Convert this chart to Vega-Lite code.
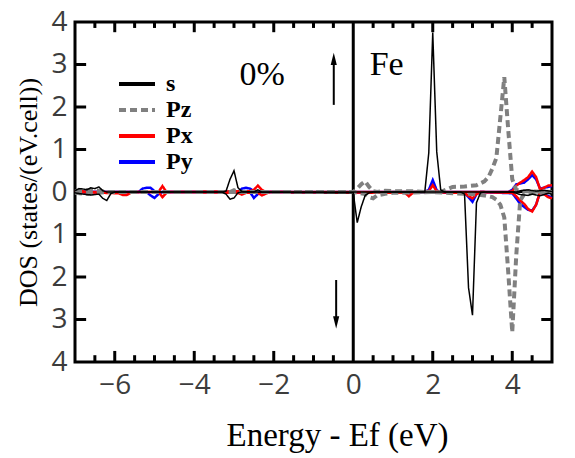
{
  "$schema": "https://vega.github.io/schema/vega-lite/v6.json",
  "width": 477,
  "height": 340,
  "autosize": {"type": "none"},
  "padding": {"left": 75, "top": 22, "right": 23, "bottom": 96},
  "background": "white",
  "config": {
    "view": {"stroke": "black", "strokeWidth": 3},
    "axis": {"domain": false, "ticks": false, "tickSize": 0, "grid": false, "labelFlush": false, "labelOverlap": false}
  },
  "datasets": {
    "xticks": [
      {"v": -6.5, "k": "minor"}, {"v": -6, "k": "major"}, {"v": -5.5, "k": "minor"}, {"v": -5, "k": "minor"}, {"v": -4.5, "k": "minor"},
      {"v": -4, "k": "major"}, {"v": -3.5, "k": "minor"}, {"v": -3, "k": "minor"}, {"v": -2.5, "k": "minor"}, {"v": -2, "k": "major"},
      {"v": -1.5, "k": "minor"}, {"v": -1, "k": "minor"}, {"v": -0.5, "k": "minor"}, {"v": 0.5, "k": "minor"}, {"v": 1, "k": "minor"},
      {"v": 1.5, "k": "minor"}, {"v": 2, "k": "major"}, {"v": 2.5, "k": "minor"}, {"v": 3, "k": "minor"}, {"v": 3.5, "k": "minor"},
      {"v": 4, "k": "major"}, {"v": 4.5, "k": "minor"}
    ],
    "yticks": [
      {"v": -3}, {"v": -2}, {"v": -1}, {"v": 0}, {"v": 1}, {"v": 2}, {"v": 3}
    ],
    "dos": [
      {"o": "s", "sp": "up", "e": -7.0, "d": 0.03}, {"o": "s", "sp": "up", "e": -6.9, "d": 0.08}, {"o": "s", "sp": "up", "e": -6.8, "d": 0.07},
      {"o": "s", "sp": "up", "e": -6.7, "d": 0.05}, {"o": "s", "sp": "up", "e": -6.6, "d": 0.1}, {"o": "s", "sp": "up", "e": -6.5, "d": 0.08},
      {"o": "s", "sp": "up", "e": -6.4, "d": 0.12}, {"o": "s", "sp": "up", "e": -6.3, "d": 0.03}, {"o": "s", "sp": "up", "e": -6.2, "d": 0.0},
      {"o": "s", "sp": "up", "e": -3.3, "d": 0.0}, {"o": "s", "sp": "up", "e": -3.2, "d": 0.02}, {"o": "s", "sp": "up", "e": -3.1, "d": 0.3},
      {"o": "s", "sp": "up", "e": -3.0, "d": 0.5}, {"o": "s", "sp": "up", "e": -2.9, "d": 0.1}, {"o": "s", "sp": "up", "e": -2.8, "d": 0.01},
      {"o": "s", "sp": "up", "e": -2.5, "d": 0.0}, {"o": "s", "sp": "up", "e": -2.4, "d": 0.05}, {"o": "s", "sp": "up", "e": -2.3, "d": 0.0},
      {"o": "s", "sp": "up", "e": 1.8, "d": 0.0}, {"o": "s", "sp": "up", "e": 1.9, "d": 0.92}, {"o": "s", "sp": "up", "e": 2.0, "d": 3.75},
      {"o": "s", "sp": "up", "e": 2.1, "d": 0.95}, {"o": "s", "sp": "up", "e": 2.2, "d": 0.05}, {"o": "s", "sp": "up", "e": 2.3, "d": 0.0},
      {"o": "s", "sp": "up", "e": 4.1, "d": 0.0}, {"o": "s", "sp": "up", "e": 4.2, "d": 0.03}, {"o": "s", "sp": "up", "e": 4.4, "d": 0.05},
      {"o": "s", "sp": "up", "e": 4.6, "d": 0.02}, {"o": "s", "sp": "up", "e": 4.8, "d": 0.04}, {"o": "s", "sp": "up", "e": 5.0, "d": 0.01},

      {"o": "s", "sp": "dn", "e": -7.0, "d": -0.02}, {"o": "s", "sp": "dn", "e": -6.8, "d": -0.05}, {"o": "s", "sp": "dn", "e": -6.6, "d": -0.07},
      {"o": "s", "sp": "dn", "e": -6.4, "d": -0.05}, {"o": "s", "sp": "dn", "e": -6.3, "d": -0.15}, {"o": "s", "sp": "dn", "e": -6.2, "d": -0.2},
      {"o": "s", "sp": "dn", "e": -6.1, "d": -0.04}, {"o": "s", "sp": "dn", "e": -6.0, "d": 0.0}, {"o": "s", "sp": "dn", "e": -3.3, "d": 0.0},
      {"o": "s", "sp": "dn", "e": -3.2, "d": -0.05}, {"o": "s", "sp": "dn", "e": -3.1, "d": -0.17}, {"o": "s", "sp": "dn", "e": -3.0, "d": -0.14},
      {"o": "s", "sp": "dn", "e": -2.9, "d": -0.02}, {"o": "s", "sp": "dn", "e": -2.8, "d": 0.0}, {"o": "s", "sp": "dn", "e": 0.0, "d": -0.02},
      {"o": "s", "sp": "dn", "e": 0.1, "d": -0.72}, {"o": "s", "sp": "dn", "e": 0.2, "d": -0.35}, {"o": "s", "sp": "dn", "e": 0.3, "d": -0.08},
      {"o": "s", "sp": "dn", "e": 0.4, "d": -0.02}, {"o": "s", "sp": "dn", "e": 0.5, "d": 0.0}, {"o": "s", "sp": "dn", "e": 2.7, "d": 0.0},
      {"o": "s", "sp": "dn", "e": 2.8, "d": -0.05}, {"o": "s", "sp": "dn", "e": 2.9, "d": -2.25}, {"o": "s", "sp": "dn", "e": 3.0, "d": -2.9},
      {"o": "s", "sp": "dn", "e": 3.1, "d": -0.25}, {"o": "s", "sp": "dn", "e": 3.2, "d": -0.02}, {"o": "s", "sp": "dn", "e": 3.3, "d": 0.0},
      {"o": "s", "sp": "dn", "e": 4.0, "d": 0.0}, {"o": "s", "sp": "dn", "e": 4.2, "d": -0.06}, {"o": "s", "sp": "dn", "e": 4.4, "d": -0.08},
      {"o": "s", "sp": "dn", "e": 4.5, "d": -0.05}, {"o": "s", "sp": "dn", "e": 4.7, "d": -0.09}, {"o": "s", "sp": "dn", "e": 4.9, "d": -0.03},
      {"o": "s", "sp": "dn", "e": 5.0, "d": -0.05},

      {"o": "Pz", "sp": "up", "e": -7.0, "d": 0.02}, {"o": "Pz", "sp": "up", "e": -6.8, "d": 0.05}, {"o": "Pz", "sp": "up", "e": -6.6, "d": 0.05},
      {"o": "Pz", "sp": "up", "e": -6.4, "d": 0.03}, {"o": "Pz", "sp": "up", "e": -6.2, "d": 0.0}, {"o": "Pz", "sp": "up", "e": -3.1, "d": 0.0},
      {"o": "Pz", "sp": "up", "e": -3.0, "d": 0.04}, {"o": "Pz", "sp": "up", "e": -2.9, "d": 0.0}, {"o": "Pz", "sp": "up", "e": 0.0, "d": 0.0},
      {"o": "Pz", "sp": "up", "e": 0.1, "d": 0.08}, {"o": "Pz", "sp": "up", "e": 0.2, "d": 0.18}, {"o": "Pz", "sp": "up", "e": 0.3, "d": 0.25},
      {"o": "Pz", "sp": "up", "e": 0.4, "d": 0.12}, {"o": "Pz", "sp": "up", "e": 0.5, "d": 0.02}, {"o": "Pz", "sp": "up", "e": 0.6, "d": 0.0},
      {"o": "Pz", "sp": "up", "e": 0.8, "d": 0.03}, {"o": "Pz", "sp": "up", "e": 1.0, "d": 0.02}, {"o": "Pz", "sp": "up", "e": 1.5, "d": 0.02},
      {"o": "Pz", "sp": "up", "e": 1.8, "d": 0.0}, {"o": "Pz", "sp": "up", "e": 2.2, "d": 0.0}, {"o": "Pz", "sp": "up", "e": 2.5, "d": 0.12},
      {"o": "Pz", "sp": "up", "e": 2.8, "d": 0.13}, {"o": "Pz", "sp": "up", "e": 3.1, "d": 0.16}, {"o": "Pz", "sp": "up", "e": 3.3, "d": 0.25},
      {"o": "Pz", "sp": "up", "e": 3.4, "d": 0.35}, {"o": "Pz", "sp": "up", "e": 3.5, "d": 0.55}, {"o": "Pz", "sp": "up", "e": 3.6, "d": 0.8},
      {"o": "Pz", "sp": "up", "e": 3.7, "d": 1.75}, {"o": "Pz", "sp": "up", "e": 3.8, "d": 2.7}, {"o": "Pz", "sp": "up", "e": 3.9, "d": 1.45},
      {"o": "Pz", "sp": "up", "e": 4.0, "d": 0.3}, {"o": "Pz", "sp": "up", "e": 4.1, "d": 0.05}, {"o": "Pz", "sp": "up", "e": 4.3, "d": 0.02},
      {"o": "Pz", "sp": "up", "e": 5.0, "d": 0.0},

      {"o": "Pz", "sp": "dn", "e": -7.0, "d": -0.02}, {"o": "Pz", "sp": "dn", "e": -6.8, "d": -0.04}, {"o": "Pz", "sp": "dn", "e": -6.6, "d": -0.04},
      {"o": "Pz", "sp": "dn", "e": -6.4, "d": -0.02}, {"o": "Pz", "sp": "dn", "e": -6.2, "d": 0.0}, {"o": "Pz", "sp": "dn", "e": 0.0, "d": 0.0},
      {"o": "Pz", "sp": "dn", "e": 0.3, "d": -0.05}, {"o": "Pz", "sp": "dn", "e": 0.4, "d": -0.12}, {"o": "Pz", "sp": "dn", "e": 0.5, "d": -0.15},
      {"o": "Pz", "sp": "dn", "e": 0.6, "d": -0.08}, {"o": "Pz", "sp": "dn", "e": 0.8, "d": -0.04}, {"o": "Pz", "sp": "dn", "e": 1.0, "d": -0.02},
      {"o": "Pz", "sp": "dn", "e": 2.0, "d": 0.0}, {"o": "Pz", "sp": "dn", "e": 2.5, "d": -0.03}, {"o": "Pz", "sp": "dn", "e": 3.0, "d": -0.05},
      {"o": "Pz", "sp": "dn", "e": 3.3, "d": -0.08}, {"o": "Pz", "sp": "dn", "e": 3.5, "d": -0.12}, {"o": "Pz", "sp": "dn", "e": 3.6, "d": -0.18},
      {"o": "Pz", "sp": "dn", "e": 3.7, "d": -0.3}, {"o": "Pz", "sp": "dn", "e": 3.8, "d": -0.6}, {"o": "Pz", "sp": "dn", "e": 3.9, "d": -1.9},
      {"o": "Pz", "sp": "dn", "e": 4.0, "d": -3.3}, {"o": "Pz", "sp": "dn", "e": 4.1, "d": -1.5}, {"o": "Pz", "sp": "dn", "e": 4.2, "d": -0.2},
      {"o": "Pz", "sp": "dn", "e": 4.3, "d": -0.05}, {"o": "Pz", "sp": "dn", "e": 4.5, "d": -0.02}, {"o": "Pz", "sp": "dn", "e": 5.0, "d": 0.0},

      {"o": "Px", "sp": "up", "e": -7.0, "d": 0.0}, {"o": "Px", "sp": "up", "e": -6.9, "d": 0.03}, {"o": "Px", "sp": "up", "e": -6.7, "d": 0.0},
      {"o": "Px", "sp": "up", "e": -4.9, "d": 0.0}, {"o": "Px", "sp": "up", "e": -4.8, "d": 0.14}, {"o": "Px", "sp": "up", "e": -4.7, "d": 0.0},
      {"o": "Px", "sp": "up", "e": -2.6, "d": 0.02}, {"o": "Px", "sp": "up", "e": -2.5, "d": 0.05}, {"o": "Px", "sp": "up", "e": -2.4, "d": 0.15},
      {"o": "Px", "sp": "up", "e": -2.3, "d": 0.05}, {"o": "Px", "sp": "up", "e": -2.2, "d": 0.0}, {"o": "Px", "sp": "up", "e": 1.8, "d": 0.0},
      {"o": "Px", "sp": "up", "e": 1.9, "d": 0.02}, {"o": "Px", "sp": "up", "e": 2.0, "d": 0.16}, {"o": "Px", "sp": "up", "e": 2.1, "d": 0.02},
      {"o": "Px", "sp": "up", "e": 2.2, "d": 0.0}, {"o": "Px", "sp": "up", "e": 3.9, "d": 0.0}, {"o": "Px", "sp": "up", "e": 4.0, "d": 0.02},
      {"o": "Px", "sp": "up", "e": 4.1, "d": 0.15}, {"o": "Px", "sp": "up", "e": 4.2, "d": 0.22}, {"o": "Px", "sp": "up", "e": 4.3, "d": 0.28},
      {"o": "Px", "sp": "up", "e": 4.4, "d": 0.35}, {"o": "Px", "sp": "up", "e": 4.5, "d": 0.48}, {"o": "Px", "sp": "up", "e": 4.6, "d": 0.35},
      {"o": "Px", "sp": "up", "e": 4.7, "d": 0.06}, {"o": "Px", "sp": "up", "e": 4.8, "d": 0.1}, {"o": "Px", "sp": "up", "e": 4.9, "d": 0.15},
      {"o": "Px", "sp": "up", "e": 5.0, "d": 0.16},

      {"o": "Px", "sp": "dn", "e": -7.0, "d": 0.0}, {"o": "Px", "sp": "dn", "e": -5.9, "d": -0.03}, {"o": "Px", "sp": "dn", "e": -5.8, "d": -0.07},
      {"o": "Px", "sp": "dn", "e": -5.7, "d": -0.07}, {"o": "Px", "sp": "dn", "e": -5.6, "d": -0.02}, {"o": "Px", "sp": "dn", "e": -5.5, "d": 0.0},
      {"o": "Px", "sp": "dn", "e": -4.9, "d": 0.0}, {"o": "Px", "sp": "dn", "e": -4.8, "d": -0.12}, {"o": "Px", "sp": "dn", "e": -4.7, "d": -0.02},
      {"o": "Px", "sp": "dn", "e": -4.6, "d": 0.0}, {"o": "Px", "sp": "dn", "e": -2.9, "d": -0.02}, {"o": "Px", "sp": "dn", "e": -2.8, "d": -0.06},
      {"o": "Px", "sp": "dn", "e": -2.7, "d": -0.02}, {"o": "Px", "sp": "dn", "e": -2.4, "d": -0.02}, {"o": "Px", "sp": "dn", "e": -2.3, "d": -0.08},
      {"o": "Px", "sp": "dn", "e": -2.2, "d": -0.04}, {"o": "Px", "sp": "dn", "e": -2.1, "d": 0.0}, {"o": "Px", "sp": "dn", "e": 1.3, "d": -0.02},
      {"o": "Px", "sp": "dn", "e": 1.4, "d": -0.1}, {"o": "Px", "sp": "dn", "e": 1.5, "d": -0.02}, {"o": "Px", "sp": "dn", "e": 1.6, "d": 0.0},
      {"o": "Px", "sp": "dn", "e": 2.8, "d": -0.02}, {"o": "Px", "sp": "dn", "e": 2.9, "d": -0.1}, {"o": "Px", "sp": "dn", "e": 3.0, "d": -0.15},
      {"o": "Px", "sp": "dn", "e": 3.1, "d": -0.05}, {"o": "Px", "sp": "dn", "e": 3.2, "d": 0.0}, {"o": "Px", "sp": "dn", "e": 4.0, "d": -0.02},
      {"o": "Px", "sp": "dn", "e": 4.1, "d": -0.1}, {"o": "Px", "sp": "dn", "e": 4.2, "d": -0.2}, {"o": "Px", "sp": "dn", "e": 4.3, "d": -0.28},
      {"o": "Px", "sp": "dn", "e": 4.4, "d": -0.4}, {"o": "Px", "sp": "dn", "e": 4.5, "d": -0.46}, {"o": "Px", "sp": "dn", "e": 4.6, "d": -0.3},
      {"o": "Px", "sp": "dn", "e": 4.7, "d": 0.0}, {"o": "Px", "sp": "dn", "e": 4.8, "d": -0.05}, {"o": "Px", "sp": "dn", "e": 4.9, "d": -0.12},
      {"o": "Px", "sp": "dn", "e": 5.0, "d": -0.15},

      {"o": "Py", "sp": "up", "e": -7.0, "d": 0.0}, {"o": "Py", "sp": "up", "e": -5.4, "d": 0.0}, {"o": "Py", "sp": "up", "e": -5.3, "d": 0.08},
      {"o": "Py", "sp": "up", "e": -5.2, "d": 0.1}, {"o": "Py", "sp": "up", "e": -5.1, "d": 0.1}, {"o": "Py", "sp": "up", "e": -5.0, "d": 0.02},
      {"o": "Py", "sp": "up", "e": -4.9, "d": 0.0}, {"o": "Py", "sp": "up", "e": -2.9, "d": 0.0}, {"o": "Py", "sp": "up", "e": -2.8, "d": 0.08},
      {"o": "Py", "sp": "up", "e": -2.7, "d": 0.1}, {"o": "Py", "sp": "up", "e": -2.6, "d": 0.08}, {"o": "Py", "sp": "up", "e": -2.5, "d": 0.02},
      {"o": "Py", "sp": "up", "e": -2.4, "d": 0.0}, {"o": "Py", "sp": "up", "e": 1.8, "d": 0.0}, {"o": "Py", "sp": "up", "e": 1.9, "d": 0.05},
      {"o": "Py", "sp": "up", "e": 2.0, "d": 0.28}, {"o": "Py", "sp": "up", "e": 2.1, "d": 0.04}, {"o": "Py", "sp": "up", "e": 2.2, "d": 0.0},
      {"o": "Py", "sp": "up", "e": 3.9, "d": 0.0}, {"o": "Py", "sp": "up", "e": 4.0, "d": 0.05}, {"o": "Py", "sp": "up", "e": 4.1, "d": 0.18},
      {"o": "Py", "sp": "up", "e": 4.2, "d": 0.2}, {"o": "Py", "sp": "up", "e": 4.3, "d": 0.22}, {"o": "Py", "sp": "up", "e": 4.4, "d": 0.3},
      {"o": "Py", "sp": "up", "e": 4.5, "d": 0.4}, {"o": "Py", "sp": "up", "e": 4.6, "d": 0.3}, {"o": "Py", "sp": "up", "e": 4.7, "d": 0.08},
      {"o": "Py", "sp": "up", "e": 5.0, "d": 0.14},

      {"o": "Py", "sp": "dn", "e": -7.0, "d": 0.0}, {"o": "Py", "sp": "dn", "e": -5.2, "d": 0.0}, {"o": "Py", "sp": "dn", "e": -5.1, "d": -0.08},
      {"o": "Py", "sp": "dn", "e": -5.0, "d": -0.14}, {"o": "Py", "sp": "dn", "e": -4.9, "d": -0.05}, {"o": "Py", "sp": "dn", "e": -4.8, "d": 0.0},
      {"o": "Py", "sp": "dn", "e": -2.6, "d": 0.0}, {"o": "Py", "sp": "dn", "e": -2.5, "d": -0.14}, {"o": "Py", "sp": "dn", "e": -2.4, "d": -0.05},
      {"o": "Py", "sp": "dn", "e": -2.3, "d": 0.0}, {"o": "Py", "sp": "dn", "e": 2.8, "d": -0.02}, {"o": "Py", "sp": "dn", "e": 2.9, "d": -0.12},
      {"o": "Py", "sp": "dn", "e": 3.0, "d": -0.23}, {"o": "Py", "sp": "dn", "e": 3.1, "d": -0.05}, {"o": "Py", "sp": "dn", "e": 3.2, "d": 0.0},
      {"o": "Py", "sp": "dn", "e": 4.0, "d": -0.03}, {"o": "Py", "sp": "dn", "e": 4.1, "d": -0.15}, {"o": "Py", "sp": "dn", "e": 4.2, "d": -0.28},
      {"o": "Py", "sp": "dn", "e": 4.3, "d": -0.35}, {"o": "Py", "sp": "dn", "e": 4.4, "d": -0.42}, {"o": "Py", "sp": "dn", "e": 4.5, "d": -0.44},
      {"o": "Py", "sp": "dn", "e": 4.6, "d": -0.3}, {"o": "Py", "sp": "dn", "e": 4.7, "d": 0.0}, {"o": "Py", "sp": "dn", "e": 5.0, "d": -0.14}
    ]
  },
  "resolve": {"axis": {"x": "independent", "y": "independent"}},
  "layer": [
    {
      "description": "Horizontal zero line",
      "data": {"values": [{"d": 0}]},
      "mark": {"type": "rule", "color": "black", "strokeWidth": 2},
      "encoding": {
        "y": {"field": "d", "type": "quantitative", "scale": {"domain": [-4, 4], "nice": false, "zero": false}, "axis": null}
      }
    },
    {
      "description": "Fermi level",
      "data": {"values": [{"e": 0}]},
      "mark": {"type": "rule", "color": "black", "strokeWidth": 3},
      "encoding": {
        "x": {"field": "e", "type": "quantitative", "scale": {"domain": [-7, 5], "nice": false, "zero": false}, "axis": null}
      }
    },
    {
      "description": "Inward major energy ticks, bottom edge",
      "data": {"name": "xticks"},
      "transform": [{"filter": "datum.k === 'major'"}],
      "mark": {"type": "rule", "color": "black", "strokeWidth": 3},
      "encoding": {
        "x": {"field": "v", "type": "quantitative", "axis": null},
        "y": {"datum": -4, "type": "quantitative", "axis": null},
        "y2": {"datum": -3.74}
      }
    },
    {
      "description": "Inward minor energy ticks, bottom edge",
      "data": {"name": "xticks"},
      "transform": [{"filter": "datum.k === 'minor'"}],
      "mark": {"type": "rule", "color": "black", "strokeWidth": 3},
      "encoding": {
        "x": {"field": "v", "type": "quantitative", "axis": null},
        "y": {"datum": -4, "type": "quantitative", "axis": null},
        "y2": {"datum": -3.84}
      }
    },
    {
      "description": "Inward major energy ticks, top edge",
      "data": {"name": "xticks"},
      "transform": [{"filter": "datum.k === 'major'"}],
      "mark": {"type": "rule", "color": "black", "strokeWidth": 3},
      "encoding": {
        "x": {"field": "v", "type": "quantitative", "axis": null},
        "y": {"datum": 4, "type": "quantitative", "axis": null},
        "y2": {"datum": 3.76}
      }
    },
    {
      "description": "Inward minor energy ticks, top edge",
      "data": {"name": "xticks"},
      "transform": [{"filter": "datum.k === 'minor'"}],
      "mark": {"type": "rule", "color": "black", "strokeWidth": 3},
      "encoding": {
        "x": {"field": "v", "type": "quantitative", "axis": null},
        "y": {"datum": 4, "type": "quantitative", "axis": null},
        "y2": {"datum": 3.86}
      }
    },
    {
      "description": "Inward DOS ticks, left edge",
      "data": {"name": "yticks"},
      "mark": {"type": "rule", "color": "black", "strokeWidth": 3},
      "encoding": {
        "y": {"field": "v", "type": "quantitative", "axis": null},
        "x": {"datum": -7, "type": "quantitative", "axis": null},
        "x2": {"datum": -6.72}
      }
    },
    {
      "description": "Inward DOS ticks, right edge",
      "data": {"name": "yticks"},
      "mark": {"type": "rule", "color": "black", "strokeWidth": 3},
      "encoding": {
        "y": {"field": "v", "type": "quantitative", "axis": null},
        "x": {"datum": 5, "type": "quantitative", "axis": null},
        "x2": {"datum": 4.73}
      }
    },
    {
      "data": {"name": "dos"},
      "transform": [{"filter": "datum.o === 'Py'"}],
      "mark": {"type": "line", "strokeWidth": 2.5},
      "encoding": {
        "x": {"field": "e", "type": "quantitative", "axis": null},
        "y": {"field": "d", "type": "quantitative", "axis": null},
        "detail": {"field": "sp"},
        "color": {"field": "o", "type": "nominal"},
        "strokeDash": {"field": "o", "type": "nominal"}
      }
    },
    {
      "data": {"name": "dos"},
      "transform": [{"filter": "datum.o === 'Px'"}],
      "mark": {"type": "line", "strokeWidth": 2.5},
      "encoding": {
        "x": {"field": "e", "type": "quantitative", "axis": null},
        "y": {"field": "d", "type": "quantitative", "axis": null},
        "detail": {"field": "sp"},
        "color": {"field": "o", "type": "nominal"},
        "strokeDash": {"field": "o", "type": "nominal"}
      }
    },
    {
      "data": {"name": "dos"},
      "transform": [{"filter": "datum.o === 'Pz'"}],
      "mark": {"type": "line", "strokeWidth": 4},
      "encoding": {
        "x": {"field": "e", "type": "quantitative", "axis": null},
        "y": {"field": "d", "type": "quantitative", "axis": null},
        "detail": {"field": "sp"},
        "color": {"field": "o", "type": "nominal"},
        "strokeDash": {"field": "o", "type": "nominal"}
      }
    },
    {
      "description": "s curves; this layer carries the labelled axes",
      "data": {"name": "dos"},
      "transform": [{"filter": "datum.o === 's'"}],
      "mark": {"type": "line", "strokeWidth": 1.5},
      "encoding": {
        "x": {"field": "e", "type": "quantitative",
          "axis": {"orient": "bottom", "values": [-6, -4, -2, 0, 2, 4],
            "labelExpr": "format(datum.value, 'd')",
            "labelFont": "Open Sans", "labelFontSize": 28, "labelColor": "#3c3c3c", "labelPadding": 9,
            "title": "Energy - Ef (eV)", "titleFont": "Liberation Serif", "titleFontSize": 33,
            "titleFontWeight": "normal", "titleColor": "black", "titlePadding": 20, "titleX": 262}},
        "y": {"field": "d", "type": "quantitative",
          "axis": {"orient": "left", "values": [-4, -3, -2, -1, 0, 1, 2, 3, 4],
            "labelExpr": "'' + abs(datum.value)",
            "labelFont": "Open Sans", "labelFontSize": 28, "labelColor": "#3c3c3c", "labelPadding": 8,
            "title": "DOS (states/(eV.cell))", "titleFont": "Liberation Serif", "titleFontSize": 26,
            "titleFontWeight": "normal", "titleColor": "black", "titlePadding": 9}},
        "detail": {"field": "sp"},
        "color": {"field": "o", "type": "nominal",
          "scale": {"domain": ["s", "Pz", "Px", "Py"], "range": ["black", "#808080", "#ff0000", "#0000ff"]},
          "legend": {"orient": "none", "legendX": 48, "legendY": 48, "title": null, "padding": 0,
            "symbolType": "M-1.5,0H1.5", "symbolSize": 576, "symbolStrokeWidth": 4, "symbolFillColor": "transparent",
            "labelFont": "Liberation Serif", "labelFontSize": 24, "labelFontWeight": "bold", "labelColor": "black",
            "labelOffset": 15, "rowPadding": -1,
            "encode": {"symbols": {"update": {"strokeWidth": {"value": 4}, "fill": {"value": "transparent"}}}}}},
        "strokeDash": {"field": "o", "type": "nominal",
          "scale": {"domain": ["s", "Pz", "Px", "Py"], "range": [[1, 0], [7, 4], [1, 0], [1, 0]]}}
      }
    },
    {
      "description": "Spin-direction arrow shafts",
      "data": {"values": [{"e": -0.49, "a": 2.05, "b": 3.1}, {"e": -0.43, "a": -2.07, "b": -3.0}]},
      "mark": {"type": "rule", "color": "black", "strokeWidth": 2},
      "encoding": {
        "x": {"field": "e", "type": "quantitative", "axis": null},
        "y": {"field": "a", "type": "quantitative", "axis": null},
        "y2": {"field": "b"}
      }
    },
    {
      "description": "Spin-direction arrow heads",
      "data": {"values": [{"e": -0.49, "d": 3.13, "h": "up"}, {"e": -0.43, "d": -3.07, "h": "down"}]},
      "mark": {"type": "point", "filled": true, "color": "black", "opacity": 1, "size": 150, "strokeWidth": 0},
      "encoding": {
        "x": {"field": "e", "type": "quantitative", "axis": null},
        "y": {"field": "d", "type": "quantitative", "axis": null},
        "shape": {"field": "h", "type": "nominal", "legend": null,
          "scale": {"domain": ["up", "down"], "range": ["M0,-1L0.5,1L-0.5,1Z", "M0,1L0.5,-1L-0.5,-1Z"]}}
      }
    },
    {
      "description": "Panel annotations",
      "data": {"values": [{"e": -2.29, "d": 2.75, "t": "0%"}, {"e": 0.84, "d": 3.0, "t": "Fe"}]},
      "mark": {"type": "text", "font": "Liberation Serif", "fontSize": 34, "color": "black", "align": "center", "baseline": "middle"},
      "encoding": {
        "x": {"field": "e", "type": "quantitative", "axis": null},
        "y": {"field": "d", "type": "quantitative", "axis": null},
        "text": {"field": "t"}
      }
    }
  ]
}
